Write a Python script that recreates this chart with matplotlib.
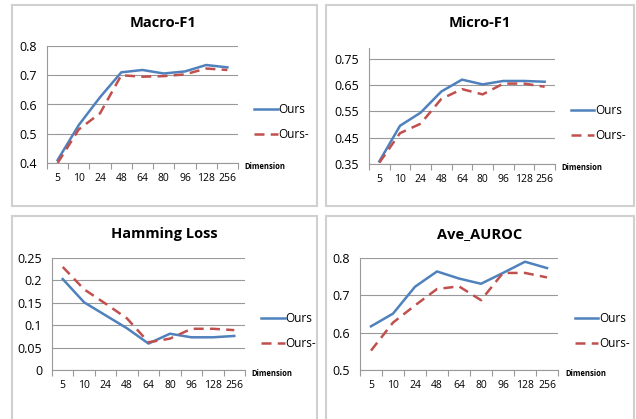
#importaciones
import matplotlib
matplotlib.use('Agg')
import matplotlib.pyplot as plt
from matplotlib.patches import Rectangle

#datos
dimensiones = ['5', '10', '24', '48', '64', '80', '96', '128', '256']

macro_ours = [0.41, 0.53, 0.625, 0.71, 0.718, 0.706, 0.713, 0.735, 0.727]
macro_ours_m = [0.40, 0.515, 0.57, 0.70, 0.695, 0.697, 0.703, 0.723, 0.718]

micro_ours = [0.36, 0.495, 0.545, 0.625, 0.67, 0.652, 0.665, 0.665, 0.662]
micro_ours_m = [0.355, 0.467, 0.503, 0.597, 0.634, 0.614, 0.655, 0.655, 0.643]

hamming_ours = [0.203, 0.151, 0.122, 0.093, 0.059, 0.081, 0.073, 0.073, 0.076]
hamming_ours_m = [0.23, 0.18, 0.148, 0.115, 0.062, 0.07, 0.092, 0.092, 0.089]

auroc_ours = [0.617, 0.651, 0.723, 0.764, 0.745, 0.731, 0.76, 0.79, 0.773]
auroc_ours_m = [0.552, 0.627, 0.673, 0.717, 0.724, 0.687, 0.76, 0.76, 0.748]

titulos = ['Macro-F1', 'Micro-F1', 'Hamming Loss', 'Ave_AUROC']
series = [(macro_ours, macro_ours_m), (micro_ours, micro_ours_m),
          (hamming_ours, hamming_ours_m), (auroc_ours, auroc_ours_m)]
ticks_y = [[0.4, 0.5, 0.6, 0.7, 0.8],
           [0.35, 0.45, 0.55, 0.65, 0.75],
           [0, 0.05, 0.1, 0.15, 0.2, 0.25],
           [0.5, 0.6, 0.7, 0.8]]
etiquetas_y = [['0.4', '0.5', '0.6', '0.7', '0.8'],
               ['0.35', '0.45', '0.55', '0.65', '0.75'],
               ['0', '0.05', '0.1', '0.15', '0.2', '0.25'],
               ['0.5', '0.6', '0.7', '0.8']]
limites_y = [(0.4, 0.8), (0.35, 0.79), (0, 0.25), (0.5, 0.8)]

#layout en pixeles
W, H = 636, 419
# (x0, x1, y_top, y_bottom) del area de trazado
areas = [(47, 238, 46, 163), (369, 555, 48, 164),
         (52, 245, 258, 370), (360, 558, 258, 370)]
# cajas de cada grafico (x0, y0, x1, y1)
cajas = [(12, 5, 317, 206), (326, 5, 634, 206),
         (12, 216, 317, 430), (326, 216, 634, 430)]
centro_titulo = [(163, 23), (480, 23), (164, 234), (480, 234)]

plt.rcParams['font.family'] = ['Open Sans', 'DejaVu Sans']

fig = plt.figure(figsize=(W / 100, H / 100), dpi=100)

for (x0, y0, x1, y1) in cajas:
    fig.patches.append(Rectangle((x0 / W, 1 - y1 / H), (x1 - x0) / W, (y1 - y0) / H,
                                 transform=fig.transFigure, fill=False,
                                 edgecolor='#d0d0d0', linewidth=1.5))

x = list(range(len(dimensiones)))

for i in range(4):
    x0, x1, yt, yb = areas[i]
    ax = fig.add_axes([x0 / W, 1 - yb / H, (x1 - x0) / W, (yb - yt) / H])
    ours, ours_m = series[i]
    ax.plot(x, ours, color='#4F81BD', linewidth=1.8, label='Ours')
    ax.plot(x, ours_m, color='#C0504D', linewidth=1.8, dashes=(4, 2.5), label='Ours-')

    ax.set_xlim(-0.5, len(dimensiones) - 0.5)
    ax.set_ylim(*limites_y[i])
    ax.set_yticks(ticks_y[i])
    ax.set_yticklabels(etiquetas_y[i], fontsize=9)
    ax.yaxis.grid(True, color='#999999', linewidth=0.8)
    ax.set_axisbelow(True)

    ax.set_xticks([k - 0.5 for k in range(len(dimensiones) + 1)])
    ax.set_xticklabels([])
    ax.set_xticks(x, minor=True)
    ax.set_xticklabels(dimensiones, minor=True, fontsize=7.5)
    ax.tick_params(axis='x', which='major', length=4, color='#999999')
    ax.tick_params(axis='x', which='minor', length=0, pad=7)
    ax.tick_params(axis='y', length=0, pad=7)

    for lado in ['top', 'right']:
        ax.spines[lado].set_visible(False)
    ax.spines['left'].set_color('#999999')
    ax.spines['bottom'].set_color('#999999')

    fig.text(centro_titulo[i][0] / W, 1 - centro_titulo[i][1] / H, titulos[i],
             fontsize=10.5, fontweight='bold', ha='center', va='center')

    ax.text(1.035, -0.03, 'Dimension', transform=ax.transAxes,
            fontsize=5.5, fontweight='bold', ha='left', va='center')

    ax.legend(loc='center left', bbox_to_anchor=(1.06, 0.35), frameon=False,
              fontsize=8.5, handlelength=2.0, handletextpad=0.05, labelspacing=1.0,
              borderaxespad=0)

fig.savefig('out.png', dpi=100)
